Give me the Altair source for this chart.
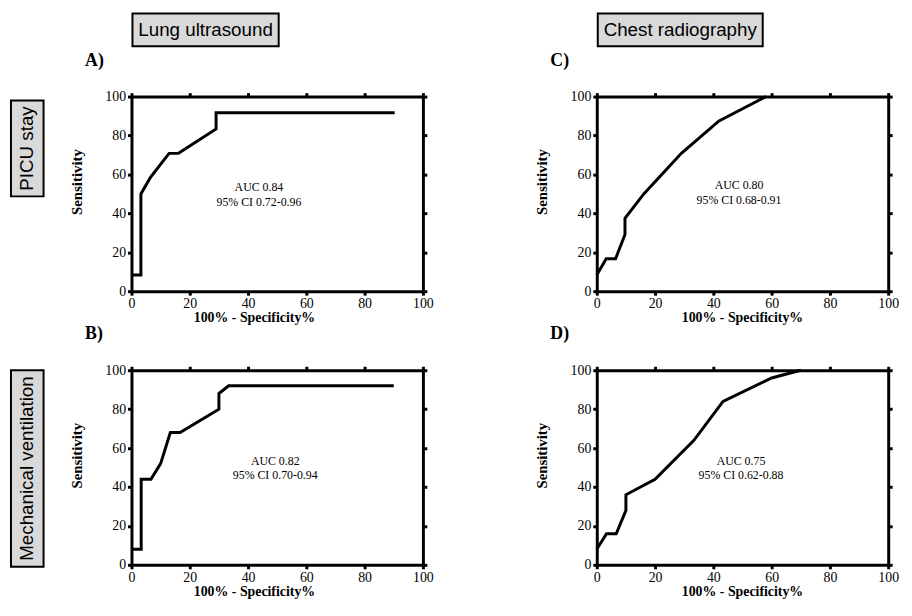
import altair as alt
import pandas as pd

SERIF = "Liberation Serif, Times New Roman, serif"
SANS = "Liberation Sans, Arial, sans-serif"

# ---- data ----
ticks = [0, 20, 40, 60, 80, 100]

# A) Lung ultrasound - PICU stay
a_fpr = [0, 3.23, 3.23, 6.45, 12.9, 16.13, 29.03, 29.03, 90.32]
a_sens = [8.33, 8.33, 50.0, 58.33, 70.83, 70.83, 83.33, 91.67, 91.67]
# C) Chest radiography - PICU stay
c_fpr = [0, 3.23, 6.45, 9.68, 9.68, 16.13, 29.03, 41.94, 58.06]
c_sens = [8.33, 16.67, 16.67, 29.17, 37.5, 50.0, 70.83, 87.5, 100.0]
# B) Lung ultrasound - Mechanical ventilation
b_fpr = [0, 3.33, 3.33, 6.67, 10.0, 13.33, 16.67, 30.0, 30.0, 33.33, 90.0]
b_sens = [8, 8, 44, 44, 52, 68, 68, 80, 88, 92, 92]
# D) Chest radiography - Mechanical ventilation
d_fpr = [0, 3.33, 6.67, 10.0, 10.0, 20.0, 33.33, 43.33, 60.0, 70.0]
d_sens = [8, 16, 16, 28, 36, 44, 64, 84, 96, 100]

auc_labels = ["AUC 0.84", "AUC 0.80", "AUC 0.82", "AUC 0.75"]
ci_labels = ["95% CI 0.72-0.96", "95% CI 0.68-0.91", "95% CI 0.70-0.94", "95% CI 0.62-0.88"]
letters = ["A)", "C)", "B)", "D)"]
col_headers = ["Lung ultrasound", "Chest radiography"]
row_headers = ["PICU stay", "Mechanical ventilation"]

W, H = 295, 197


def one_row(text):
    return pd.DataFrame({"t": [text]})


def main_axis(title, **kw):
    return alt.Axis(values=ticks, title=title, labelFont=SERIF, labelFontSize=14,
                    labelColor="black", labelPadding=2, labelFlush=False, labelOverlap=False,
                    titleFont=SERIF, titleFontWeight="bold", titleColor="black",
                    titleBaseline="middle", titleAlign="center", **kw)


def panel(fpr, sens, auc, ci, letter, auc_xy, title_x, letter_y,
          col_header=None, col_box=None, row_header=None, row_box=None):
    df = pd.DataFrame({"fpr": fpr, "sens": sens, "i": list(range(len(fpr)))})
    xs = alt.Scale(domain=[0, 100], nice=False, zero=False)
    ys = alt.Scale(domain=[0, 100], nice=False, zero=False)

    line = alt.Chart(df).mark_line(color="black", strokeWidth=3).encode(
        x=alt.X("fpr:Q", scale=xs, axis=main_axis(
            "100% - Specificity%", titleX=title_x, titleY=27, titleFontSize=14)),
        y=alt.Y("sens:Q", scale=ys, axis=main_axis(
            "Sensitivity", titleX=-56, titleY=86, titleAngle=270, titleFontSize=15)),
        order=alt.Order("i:Q"),
    )
    frame = alt.Chart(df).mark_point(opacity=0).encode(
        x=alt.X("fpr:Q", scale=xs, axis=alt.Axis(orient="top", values=ticks, labels=False, title="")),
        y=alt.Y("sens:Q", scale=ys, axis=alt.Axis(orient="right", values=ticks, labels=False, title="")),
    )
    auc_txt = alt.Chart(one_row(auc + "\n" + ci)).mark_text(
        font=SERIF, fontSize=12, color="black", lineBreak="\n", lineHeight=15,
        align="center", baseline="middle").encode(
        text="t:N", x=alt.value(auc_xy[0]), y=alt.value(auc_xy[1]))
    letter_txt = alt.Chart(one_row(letter)).mark_text(
        font=SERIF, fontSize=18, fontWeight="bold", color="black",
        align="left", baseline="middle").encode(
        text="t:N", x=alt.value(-47), y=alt.value(letter_y))
    layers = [line, frame, auc_txt, letter_txt]
    if col_header:
        x0, x1 = col_box
        layers.append(alt.Chart(one_row(col_header)).mark_rect(
            fill="#d9d9d9", stroke="black", strokeWidth=2).encode(
            x=alt.value(x0), x2=alt.value(x1), y=alt.value(-84), y2=alt.value(-51)))
        layers.append(alt.Chart(one_row(col_header)).mark_text(
            font=SANS, fontSize=19, color="black", align="center", baseline="middle").encode(
            text="t:N", x=alt.value((x0 + x1) / 2), y=alt.value(-67)))
    if row_header:
        y0, y1 = row_box
        layers.append(alt.Chart(one_row(row_header)).mark_rect(
            fill="#d9d9d9", stroke="black", strokeWidth=2).encode(
            x=alt.value(-122), x2=alt.value(-89), y=alt.value(y0), y2=alt.value(y1)))
        layers.append(alt.Chart(one_row(row_header)).mark_text(
            font=SANS, fontSize=19, color="black", angle=270, align="center",
            baseline="middle").encode(
            text="t:N", x=alt.value(-105.5), y=alt.value((y0 + y1) / 2)))
    return alt.layer(*layers).resolve_axis(x="independent", y="independent").properties(
        width=W, height=H)


pA = panel(a_fpr, a_sens, auc_labels[0], ci_labels[0], letters[0], (129, 91.5), 124, -35.5,
           col_header=col_headers[0], col_box=(1, 149), row_header=row_headers[0], row_box=(4, 101))
pC = panel(c_fpr, c_sens, auc_labels[1], ci_labels[1], letters[1], (144, 90), 147, -35.5,
           col_header=col_headers[1], col_box=(1, 168))
pB = panel(b_fpr, b_sens, auc_labels[2], ci_labels[2], letters[2], (145.5, 91.5), 124, -37,
           row_header=row_headers[1], row_box=(0, 199))
pD = panel(d_fpr, d_sens, auc_labels[3], ci_labels[3], letters[3], (146, 91.5), 147, -37)

chart = alt.concat(pA, pC, pB, pD, columns=2, spacing={"row": 80, "column": 176},
                   bounds="flush").properties(
    padding={"left": 2, "top": 1, "right": 5, "bottom": 5},
    background="white",
).configure_view(strokeWidth=0).configure_axis(
    domainColor="black", domainWidth=3, tickColor="black", tickWidth=3, tickSize=4,
    grid=False,
)

chart.save("out.html", embed_options={"renderer": "svg", "actions": False})
